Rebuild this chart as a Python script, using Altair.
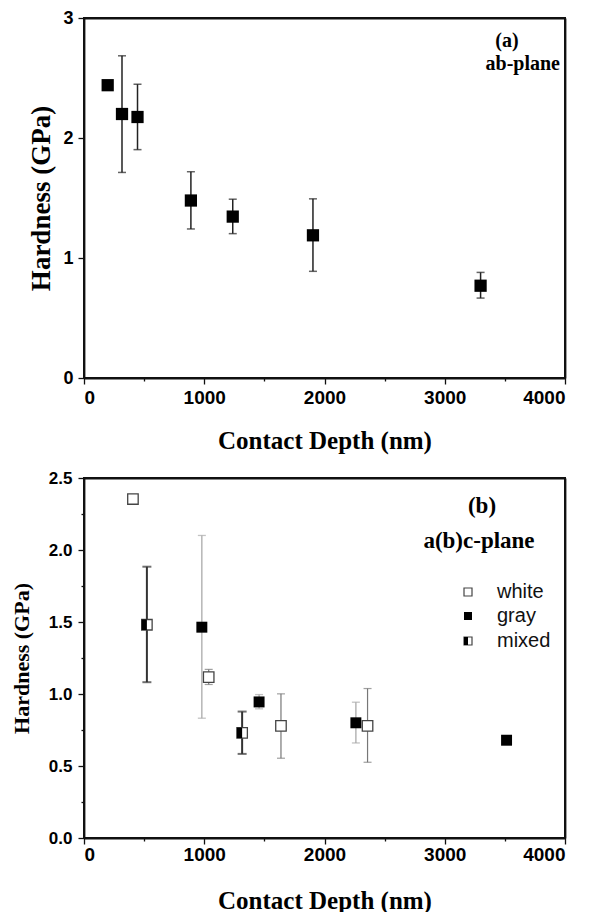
import altair as alt
import pandas as pd

# ---------------- data ----------------
# (a) ab-plane
a_depth = [197, 316, 445, 889, 1237, 1904, 3298]
a_hard = [2.44, 2.20, 2.175, 1.479, 1.345, 1.189, 0.769]
a_lo = [None, 1.713, 1.903, 1.242, 1.203, 0.889, 0.666]
a_hi = [None, 2.685, 2.448, 1.719, 1.490, 1.493, 0.880]

# (b) a(b)c-plane
white_depth = [407, 1037, 1638, 2358]
white_hard = [2.354, 1.117, 0.778, 0.778]
white_lo = [None, 1.066, 0.554, 0.526]
white_hi = [None, 1.171, 1.001, 1.038]

gray_depth = [980, 1456, 2261, 3514]
gray_hard = [1.464, 0.945, 0.800, 0.679]
gray_lo = [0.832, 0.897, 0.660, None]
gray_hi = [2.101, 0.996, 0.943, None]

mixed_depth = [523, 1315]
mixed_hard = [1.481, 0.730]
mixed_lo = [1.082, 0.584]
mixed_hi = [1.884, 0.878]

legend_labels = ["white", "gray", "mixed"]

X_DOM = [0, 4000]
YA_DOM = [0, 3]
YB_DOM = [0, 2.5]
x_ticks = list(range(0, 4001, 500))
ya_ticks = [0, 0.5, 1, 1.5, 2, 2.5, 3]
yb_ticks = [0, 0.25, 0.5, 0.75, 1.0, 1.25, 1.5, 1.75, 2.0, 2.25, 2.5]

W, H = 481, 360
SERIF = "Liberation Serif"
SANS = "Liberation Sans"
HALF = "M -1 -1 L 0 -1 L 0 1 L -1 1 Z"
INK = "#111111"


def frame(depth, hard, lo, hi):
    return pd.DataFrame({"depth": depth, "hard": hard, "lo": lo, "hi": hi})


df_a = frame(a_depth, a_hard, a_lo, a_hi)
df_w = frame(white_depth, white_hard, white_lo, white_hi)
df_g = frame(gray_depth, gray_hard, gray_lo, gray_hi)
df_m = frame(mixed_depth, mixed_hard, mixed_lo, mixed_hi)

AXIS_STYLE = dict(
    labelFont=SANS,
    labelFontWeight="bold",
    labelColor="black",
    titleFont=SERIF,
    titleFontWeight="bold",
    titleColor="black",
    domainColor=INK,
    domainWidth=1.8,
    tickColor=INK,
    tickWidth=1.3,
    grid=False,
)


def x_enc(field, label_pad, title_pad, title_size, label_size):
    return alt.X(
        f"{field}:Q",
        scale=alt.Scale(domain=X_DOM, nice=False, zero=False),
        title="Contact Depth (nm)",
        axis=alt.Axis(
            values=x_ticks,
            format="d",
            labelExpr="datum.value % 1000 === 0 ? datum.label : ''",
            tickSize={"condition": {"test": "datum.value % 1000 === 0", "value": 6}, "value": 3},
            labelPadding=label_pad,
            titlePadding=title_pad,
            titleFontSize=title_size,
            labelFontSize=label_size,
            **AXIS_STYLE,
        ),
    )


def y_enc(field, dom, ticks, fmt, major, label_pad, title_pad, title_size, label_size):
    test = f"abs(datum.value / {major} - round(datum.value / {major})) < 0.001"
    return alt.Y(
        f"{field}:Q",
        scale=alt.Scale(domain=dom, nice=False, zero=False),
        title="Hardness (GPa)",
        axis=alt.Axis(
            values=ticks,
            format=fmt,
            labelExpr=f"{test} ? datum.label : ''",
            tickSize={"condition": {"test": test, "value": 6}, "value": 3},
            labelPadding=label_pad,
            titlePadding=title_pad,
            titleFontSize=title_size,
            labelFontSize=label_size,
            **AXIS_STYLE,
        ),
    )


def errbars(df, xe, yfun, color, width, cap):
    base = alt.Chart(df).transform_filter("isValid(datum.lo)")
    rule = base.mark_rule(color=color, strokeWidth=width).encode(
        x=xe, y=yfun("lo"), y2="hi:Q"
    )
    c_lo = base.mark_tick(color=color, orient="horizontal", size=cap, thickness=width).encode(
        x=xe, y=yfun("lo")
    )
    c_hi = base.mark_tick(color=color, orient="horizontal", size=cap, thickness=width).encode(
        x=xe, y=yfun("hi")
    )
    return [rule, c_lo, c_hi]


def mirror_axes(df, ydom):
    # invisible layer whose axes sit on the top and right: they draw the frame
    plain = dict(labels=False, ticks=False, domain=True, domainColor=INK,
                 domainWidth=1.8, grid=False, title=None)
    return alt.Chart(df).mark_point(opacity=0).encode(
        x=alt.X("depth:Q", scale=alt.Scale(domain=X_DOM, nice=False, zero=False),
                axis=alt.Axis(orient="top", **plain)),
        y=alt.Y("hard:Q", scale=alt.Scale(domain=ydom, nice=False, zero=False),
                axis=alt.Axis(orient="right", **plain)),
    )


# ---------------- panel (a) ----------------
xa = x_enc("depth", 4, 21, 25, 19)
ya = lambda f: y_enc(f, YA_DOM, ya_ticks, "d", 1, 5, 7, 27, 18)

layers_a = errbars(df_a, xa, ya, "#222222", 1.5, 8)
pts_a = alt.Chart(df_a).mark_point(
    shape="square", filled=True, color="black", size=150, opacity=1
).encode(x=xa, y=ya("hard"))
txt_a1 = alt.Chart(pd.DataFrame({"t": ["(a)"]})).mark_text(
    font=SERIF, fontWeight="bold", fontSize=20, align="center", baseline="middle"
).encode(text="t:N", x=alt.value(423), y=alt.value(23))
txt_a2 = alt.Chart(pd.DataFrame({"t": ["ab-plane"]})).mark_text(
    font=SERIF, fontWeight="bold", fontSize=20, align="right", baseline="middle"
).encode(text="t:N", x=alt.value(476), y=alt.value(46))

inner_a = alt.layer(*layers_a, pts_a, txt_a1, txt_a2)
chart_a = (
    alt.layer(inner_a, mirror_axes(df_a, YA_DOM))
    .resolve_axis(x="independent", y="independent")
    .properties(width=W, height=H)
)

# ---------------- panel (b) ----------------
xb = x_enc("depth", 1, 24, 25, 19)
yb = lambda f: y_enc(f, YB_DOM, yb_ticks, ".1f", 0.5, 6, 15, 22, 17)

layers_b = []
layers_b += errbars(df_g, xb, yb, "#aaaaaa", 1.3, 8)
layers_b += errbars(df_w, xb, yb, "#777777", 1.2, 8)
layers_b += errbars(df_m, xb, yb, "#333333", 2.0, 9)

pts_w = alt.Chart(df_w).mark_point(
    shape="square", filled=True, fill="white", stroke="#444444", strokeWidth=1.3, size=110, opacity=1
).encode(x=xb, y=yb("hard"))
pts_g = alt.Chart(df_g).mark_point(
    shape="square", filled=True, color="black", size=120, opacity=1
).encode(x=xb, y=yb("hard"))
pts_m_open = alt.Chart(df_m).mark_point(
    shape="square", filled=True, fill="white", stroke="#444444", strokeWidth=1.3, size=110, opacity=1
).encode(x=xb, y=yb("hard"))
pts_m_half = alt.Chart(df_m).mark_point(
    shape=HALF, filled=True, color="black", size=110, opacity=1
).encode(x=xb, y=yb("hard"))

txt_b1 = alt.Chart(pd.DataFrame({"t": ["(b)"]})).mark_text(
    font=SERIF, fontWeight="bold", fontSize=23, align="center", baseline="middle"
).encode(text="t:N", x=alt.value(398), y=alt.value(28))
txt_b2 = alt.Chart(pd.DataFrame({"t": ["a(b)c-plane"]})).mark_text(
    font=SERIF, fontWeight="bold", fontSize=23, align="center", baseline="middle"
).encode(text="t:N", x=alt.value(395), y=alt.value(63))

# legend
leg_x, leg_tx = 384, 413
leg_y = [114, 138, 163]
leg_layers = []
leg_layers.append(alt.Chart(pd.DataFrame({"k": [legend_labels[0]]})).mark_point(
    shape="square", filled=True, fill="white", stroke="#444444", strokeWidth=1.2, size=64, opacity=1
).encode(x=alt.value(leg_x), y=alt.value(leg_y[0])))
leg_layers.append(alt.Chart(pd.DataFrame({"k": [legend_labels[1]]})).mark_point(
    shape="square", filled=True, color="black", size=64, opacity=1
).encode(x=alt.value(leg_x), y=alt.value(leg_y[1])))
leg_layers.append(alt.Chart(pd.DataFrame({"k": [legend_labels[2]]})).mark_point(
    shape="square", filled=True, fill="white", stroke="#444444", strokeWidth=1.2, size=64, opacity=1
).encode(x=alt.value(leg_x), y=alt.value(leg_y[2])))
leg_layers.append(alt.Chart(pd.DataFrame({"k": [legend_labels[2]]})).mark_point(
    shape=HALF, filled=True, color="black", size=64, opacity=1
).encode(x=alt.value(leg_x), y=alt.value(leg_y[2])))
for lab, yy in zip(legend_labels, leg_y):
    leg_layers.append(alt.Chart(pd.DataFrame({"k": [lab]})).mark_text(
        font=SANS, fontSize=20, align="left", baseline="middle", color="#111111"
    ).encode(text="k:N", x=alt.value(leg_tx), y=alt.value(yy)))

inner_b = alt.layer(
    *layers_b, pts_w, pts_g, pts_m_open, pts_m_half, txt_b1, txt_b2, *leg_layers
)
chart_b = (
    alt.layer(inner_b, mirror_axes(df_w, YB_DOM))
    .resolve_axis(x="independent", y="independent")
    .properties(width=W, height=H)
)

chart = (
    alt.vconcat(chart_a, chart_b, spacing=14)
    .properties(
        padding={"left": 1, "top": 0, "right": 0, "bottom": 0},
        background="white",
    )
    .configure_view(stroke=INK, strokeWidth=2)
)

chart.save("out.html", embed_options={"renderer": "svg", "actions": False})
